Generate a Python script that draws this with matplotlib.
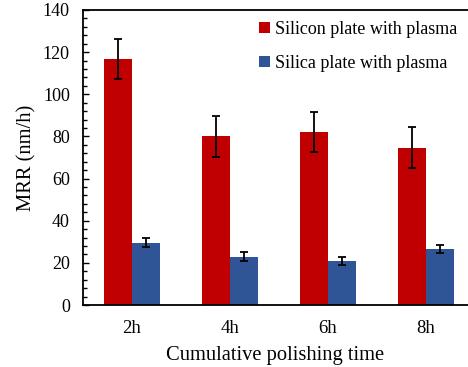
import matplotlib
matplotlib.use("Agg")
import matplotlib.pyplot as plt
import numpy as np
from matplotlib.ticker import MultipleLocator

categories = ["2h", "4h", "6h", "8h"]
silicon = [116.6, 80.0, 82.0, 74.7]
silicon_err = [9.5, 9.7, 9.5, 9.7]
silica = [29.6, 22.9, 20.7, 26.6]
silica_err = [2.2, 2.2, 1.9, 2.1]

plt.rcParams['font.family'] = ['Liberation Serif', 'DejaVu Serif']

fig = plt.figure(figsize=(4.68, 3.67), dpi=100)
ax = fig.add_axes([83/468, 1-305/367, (468-83)/468, (305-10)/367])

x = np.arange(len(categories))
w = 0.285
err_kw = dict(ecolor='black', elinewidth=1.3, capsize=2.7, capthick=1.3)
ax.bar(x - w/2, silicon, w, yerr=silicon_err, color='#C00000', label='Silicon plate with plasma', error_kw=err_kw)
ax.bar(x + w/2, silica, w, yerr=silica_err, color='#2F5597', label='Silica plate with plasma', error_kw=err_kw)

ax.set_xlim(-0.5, 3.43)
ax.set_ylim(0, 140)
ax.set_xticks(x)
ax.set_xticklabels(categories, fontsize=13.5)
ax.yaxis.set_major_locator(MultipleLocator(20))
ax.yaxis.set_minor_locator(MultipleLocator(4))
ax.tick_params(axis='y', which='major', direction='in', length=4, width=1, labelsize=13, pad=9.5)
ax.tick_params(axis='y', which='minor', direction='in', length=3, width=1)
ax.tick_params(axis='x', length=0, pad=11)
ax.spines['right'].set_visible(False)
for s in ['left', 'bottom', 'top']:
    ax.spines[s].set_linewidth(1.3)

ax.set_xlabel('Cumulative polishing time', fontsize=14.8)
ax.set_ylabel('MRR (nm/h)', fontsize=14.8)
ax.yaxis.set_label_coords(-0.12, 0.5)
ax.xaxis.set_label_coords(0.5, -0.138)

ax.legend(loc='upper right', bbox_to_anchor=(1.0, 1.0), frameon=False, fontsize=13,
          handlelength=0.6, handleheight=0.6, handletextpad=0.3, labelspacing=0.95,
          borderaxespad=0.2)

fig.savefig('out.png', dpi=100)
